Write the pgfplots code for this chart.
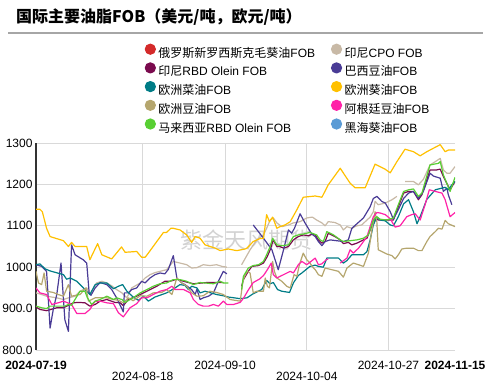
\documentclass[border=0pt]{standalone}
\usepackage{fontspec}
\setmainfont{Liberation Sans}
\newfontfamily\cjk{Noto Sans CJK SC}
\usepackage{pgfplots}
\pgfplotsset{compat=1.18}
\definecolor{cRed}{HTML}{D42A2A}
\definecolor{cBeige}{HTML}{C8B9A6}
\definecolor{cMaroon}{HTML}{7A0A4E}
\definecolor{cPurple}{HTML}{4A3C96}
\definecolor{cTeal}{HTML}{007C86}
\definecolor{cYellow}{HTML}{FFC000}
\definecolor{cKhaki}{HTML}{B5A66E}
\definecolor{cPink}{HTML}{FF22A8}
\definecolor{cGreen}{HTML}{58CF33}
\definecolor{cBlue}{HTML}{5B9BD5}
\definecolor{cGrid}{HTML}{D9D9D9}
\definecolor{cRule}{HTML}{A6A6A6}
\definecolor{cWater}{HTML}{D2D2D2}
\newcommand\zh[1]{{\cjk #1}}
\begin{document}
\begin{tikzpicture}[x=1bp,y=1bp]
\useasboundingbox (0,0) rectangle (489,385);
\node[anchor=west, inner sep=0] at (16,367.5) {\fontsize{16bp}{18bp}\selectfont\cjk\bfseries 国际主要油脂FOB（美元/吨，欧元/吨）};
\draw[cRule, line width=1.5bp] (8,352) -- (483,352);
\node[inner sep=0, text=cWater] at (246,145) {\fontsize{22bp}{24bp}\selectfont\cjk 紫金天风期货};
\begin{axis}[
  at={(36bp,35bp)}, anchor=south west,
  width=419bp, height=207bp, scale only axis,
  xmin=0, xmax=119, ymin=800, ymax=1300,
  axis lines=left, axis line style={-},
  x axis line style={draw=none},
  y axis line style={draw={rgb,255:red,51;green,51;blue,51}, line width=1.3bp},
  xmajorgrids, ymajorgrids, grid style={cGrid, line width=1bp},
  major tick length=0pt,
  xtick={30.3,53.7,76.9,100.1},
  xticklabels={\raisebox{-11bp}{2024-08-18},2024-09-10,\raisebox{-11bp}{2024-10-04},2024-10-27},
  extra x ticks={0,119},
  extra x tick labels={\textbf{2024-07-19},\textbf{2024-11-15}},
  extra x tick style={grid=none},
  xticklabel style={anchor=base, yshift=-19.3bp, font=\fontsize{12bp}{14bp}\selectfont},
  ytick={800,900,1000,1100,1200,1300},
  yticklabels={800.0,900.0,1000,1100,1200,1300},
  yticklabel style={font=\fontsize{12bp}{14bp}\selectfont},
  unbounded coords=jump,
  legend columns=2,
  legend cell align=left,
  legend style={at={(0.2595,1.4802)}, anchor=north west, draw=none, fill=none,
    inner sep=0pt, outer sep=0pt, row sep=2.1bp, column sep=0pt,
    nodes={inner xsep=2.5bp, inner ysep=0pt, text height=10bp, text depth=3bp},
    font=\fontsize{12bp}{14bp}\selectfont},
  legend image code/.code={\fill[#1] (5bp,4.5bp) circle (5bp);},
  every axis plot/.append style={line width=1.2bp, line join=round, mark=none},
]
\addlegendimage{color=cRed}
\addlegendentry{\makebox[170bp][l]{\zh{俄罗斯新罗西斯克毛葵油}FOB}}

\addplot[color=cBeige] coordinates {(0,938) (1.6,934) (3.0,930) (5.9,926) (7.8,922) (9.2,926) (11.1,930) (12.5,942) (14.4,950) (15.3,934) (17.2,962) (18.7,966) (20.1,962) (21.5,955) (22.9,946) (24.4,938) (25.8,926) (27.2,950) (29.6,962) (31.0,974) (32.4,982) (33.8,987) (35.2,990) (37.1,994) (39.0,1014) (40.9,1010) (42.8,1006) (44.2,998) (45.7,999) (47.5,1006) (49.4,1004) (51.3,1006) (52.8,1002) (54.2,1000) (56,nan) (58.4,1006) (60.8,1042) (62.7,1066) (64.6,1078) (65.5,1094) (66.5,1114) (67.4,1119) (68.4,1107) (69.8,1098) (71.7,1102) (73.1,1107) (75.0,1110) (76.9,1119) (78.5,1121) (79.7,1114) (81.2,1107) (82.1,1100) (83.0,1110) (84.9,1108) (86.4,1102) (87.3,1090) (88.3,1098) (89.7,1094) (91.1,1100) (92.5,1102) (94.0,1114) (94.9,1121) (95.8,1134) (96.3,1159) (97.2,1151) (99.2,1155) (101.1,1163) (102.5,1171) (103.6,nan) (104.8,1207) (107.2,1207) (108.6,1199) (110.0,1212) (111.9,1247) (113.4,1255) (114.8,1263) (115.7,1235) (116.7,1227) (117.6,1227) (119,1243)};
\addlegendentry{\zh{印尼}CPO FOB}

\addplot[color=cMaroon] coordinates {(0,904) (1.1,898) (3.0,895) (5.9,902) (7.8,902) (9.2,908) (10.6,914) (12.0,915) (13.9,914) (15.3,906) (16.8,910) (18.2,918) (20.1,922) (22.4,915) (23.9,914) (24.8,907) (26.2,922) (28.6,930) (31.5,942) (34.3,954) (36.6,966) (38.1,966) (40.0,971) (41.9,966) (44.7,960) (48.5,963) (51.3,963) (53.2,963) (55.5,nan) (58.4,954) (58.9,970) (60.3,990) (61.3,1002) (63.2,1004) (64.6,1010) (65.7,1026) (66.5,1042) (67.4,1066) (68.4,1050) (69.3,1050) (70.3,1046) (71.7,1050) (73.1,1066) (74.5,1074) (75.9,1078) (77.4,1076) (78.5,1080) (79.3,1078) (80.2,1066) (81.2,1058) (82.1,1062) (83.0,1082) (84.9,1074) (86.4,1066) (87.3,1057) (88.7,1060) (89.7,1054) (91.1,1058) (93.0,1066) (94.0,1070) (94.9,1090) (96.3,1119) (97.2,1114) (99.2,1114) (101.5,1114) (102.9,1146) (104.4,1179) (105.8,1183) (107.2,1183) (108.6,1163) (109.6,1175) (111.9,1235) (113.8,1235) (114.8,1237) (115.7,1219) (117.6,1187) (119,1207)};
\addlegendentry{\makebox[170bp][l]{\zh{印尼}RBD Olein FOB}}

\addplot[color=cPurple] coordinates {(0,1006) (1.6,1002) (3.0,990) (4.0,853) (4.9,898) (5.9,934) (7.1,1010) (8.2,873) (9.2,845) (10.1,1054) (11.1,1030) (13.4,1018) (14.4,1010) (15.1,938) (15.6,932) (16.8,950) (18.2,963) (20.1,958) (21.5,946) (22.9,926) (24.8,892) (25.1,938) (26.2,938) (27.2,946) (28.6,950) (30.0,966) (31.0,962) (32.4,974) (33.8,982) (35.2,986) (36.6,984) (37.6,995) (39.0,1028) (40.0,974) (41.4,962) (42.3,958) (44.2,946) (45.2,934) (45.7,947) (46.6,922) (47.5,926) (49.0,930) (50.4,938) (51.8,966) (53.2,990) (54.2,984) (57,nan) (61.7,1102) (64.6,1070) (67.0,1042) (68.8,994) (70.3,1042) (71.7,1090) (72.6,1082) (73.4,1094) (75.0,1129) (76.4,1107) (78.3,1080) (79.3,1074) (80.2,1062) (81.2,1052) (82.1,1062) (83.5,1066) (87.3,1062) (88.7,1066) (89.7,1094) (93.0,1119) (94.9,1146) (95.8,1166) (96.8,1171) (98.2,1159) (99.2,1155) (100.6,1134) (101.5,1116) (102.9,1139) (104.4,1166) (105.8,1179) (107.2,1183) (108.6,1166) (110.0,1183) (111.9,1227) (112.9,1220) (114.8,1215) (115.7,1183) (116.7,1191) (117.1,1175) (118.1,1151)};
\addlegendentry{\zh{巴西豆油}FOB}

\addplot[color=cTeal] coordinates {(0,1006) (1.1,1008) (2.6,996) (4.0,991) (7.8,982) (8.7,971) (9.7,974) (11.6,966) (13.9,946) (15.3,934) (16.8,958) (18.2,962) (20.1,962) (22.0,948) (23.4,954) (24.6,958) (25.8,942) (27.6,928) (29.1,920) (30.5,930) (31.9,918) (33.8,928) (37.1,938) (39.5,950) (40.9,958) (42.3,956) (43.3,946) (44.2,954) (45.7,950) (46.6,938) (48.0,942) (51.3,934) (53.2,931) (54.6,928) (58.0,924) (59.9,926) (61.7,936) (64.1,946) (65.5,968) (66.5,960) (67.4,963) (68.6,946) (69.8,942) (72.0,939) (73.1,962) (74.5,980) (75.5,986) (77.8,1002) (79.3,1005) (80.2,1002) (81.6,1000) (82.6,1022) (85.9,1022) (87.3,1010) (88.3,1016) (89.7,1030) (93.0,1030) (94.0,1038) (94.9,1066) (95.8,1102) (96.8,1121) (97.7,1114) (99.2,1112) (100.6,1102) (101.5,1100) (102.9,1122) (104.4,1153) (105.8,1163) (107.2,1134) (108.2,1105) (109.1,1122) (111.0,1164) (113.4,1187) (116.2,1193) (117.1,1187) (118.1,1199) (119,1207)};
\addlegendentry{\makebox[170bp][l]{\zh{欧洲菜油}FOB}}

\addplot[color=cYellow] coordinates {(0,1140) (1.1,1140) (1.8,1134) (3.0,1094) (4.0,1074) (7.8,1064) (9.2,1050) (10.1,1060) (11.1,1050) (14.4,1050) (15.3,1018) (17.5,1057) (18.7,1030) (21.5,1020) (24.3,1049) (25.3,1036) (28.6,1038) (30.0,1024) (31.0,1024) (31.9,1034) (34.3,1062) (36.2,1084) (37.1,1084) (38.3,1094) (39.0,1094) (40.9,1090) (42.8,1078) (44.2,1060) (45.2,1074) (46.6,1070) (48.0,1054) (50.9,1046) (52.3,1040) (54.6,1044) (57.0,1040) (59.4,1044) (59.9,1046) (61.7,1062) (63.6,1069) (64.6,1070) (65.5,1127) (66.3,1110) (67.2,1121) (68.4,1094) (69.3,1098) (70.7,1102) (72.2,1110) (74.1,1139) (75.9,1169) (79.3,1172) (81.2,1169) (83.0,1199) (86.4,1239) (89.2,1203) (90.6,1192) (93.5,1192) (96.3,1249) (99.1,1237) (100.6,1228) (102.5,1255) (104.8,1285) (107.2,1279) (109.1,1269) (111.0,1279) (114.8,1296) (116.2,1279) (117.1,1283) (119,1283)};
\addlegendentry{\zh{欧洲葵油}FOB}

\addplot[color=cKhaki] coordinates {(0,990) (0.7,962) (1.6,958) (2.3,986) (3.0,942) (4.9,939) (6.3,934) (7.8,930) (9.2,958) (10.1,930) (12.5,934) (14.2,950) (14.9,918) (16.8,926) (20.1,926) (22.0,922) (23.4,920) (24.8,914) (26.2,926) (27.6,919) (29.6,931) (31.5,930) (33.3,938) (35.7,939) (37.1,946) (38.6,934) (40.0,974) (41.4,962) (42.8,954) (44.2,938) (45.7,930) (47.5,931) (49.4,942) (51.3,939) (53.2,934) (55.1,922) (58.0,918) (58.7,962) (59.1,975) (59.9,990) (60.8,986) (61.7,938) (62.7,942) (64.6,942) (65.1,974) (65.7,954) (66.3,950) (67.2,1014) (67.7,990) (68.4,974) (69.8,966) (71.2,954) (72.2,950) (73.3,982) (74.1,978) (74.8,1006) (75.9,1034) (76.9,1018) (77.8,1010) (78.8,998) (79.3,994) (80.2,982) (81.2,978) (82.1,998) (84.0,994) (85.9,990) (87.3,976) (88.3,998) (90.1,1010) (91.6,1006) (93.0,1002) (94.4,1034) (95.4,1090) (96.3,1134) (96.8,1110) (97.2,1042) (98.2,1038) (99.6,1032) (101.1,1028) (102.0,1020) (102.9,1030) (103.9,1044) (105.3,1046) (107.2,1046) (108.6,1040) (109.6,1040) (111.0,1062) (111.9,1074) (113.4,1086) (114.3,1094) (115.3,1092) (116.2,1113) (117.1,1105) (119,1098)};
\addlegendentry{\makebox[170bp][l]{\zh{欧洲豆油}FOB}}

\addplot[color=cPink] coordinates {(0,950) (1.1,938) (3.0,934) (4.5,910) (6.3,914) (7.8,918) (8.7,915) (10.1,910) (11.6,888) (13.9,888) (15.3,898) (16.8,918) (18.2,918) (20.1,914) (22.0,912) (23.4,890) (24.8,880) (26.7,902) (28.6,912) (30.0,926) (31.5,926) (33.3,934) (35.2,942) (37.1,946) (38.6,954) (39.5,946) (41.9,946) (43.8,938) (44.7,922) (46.1,910) (47.5,906) (49.0,906) (50.4,910) (51.8,906) (53.2,918) (54.2,910) (56.1,910) (58.0,915) (59.0,926) (60.3,945) (61.7,963) (63.6,972) (64.6,980) (65.1,986) (66.0,998) (66.8,1010) (67.4,982) (68.4,974) (70.3,982) (72.2,990) (73.1,986) (74.5,1006) (75.5,1014) (76.9,1006) (77.8,1012) (79.3,1022) (80.2,1006) (81.2,1008) (82.4,1018) (83.0,1020) (84.5,nan) (86.4,1010) (88.3,1022) (89.2,1042) (90.1,1034) (91.6,1046) (93.0,1062) (94.0,1074) (94.9,1098) (95.8,1122) (96.8,1132) (97.7,1131) (99.2,1127) (100.6,1117) (102.0,1097) (103.4,1100) (105.3,1122) (106.7,1127) (107.7,1129) (109.1,1114) (110.5,1151) (111.7,1187) (113.4,1183) (115.3,1179) (116.2,1163) (117.6,1122) (119,1132)};
\addlegendentry{\zh{阿根廷豆油}FOB}

\addplot[color=cGreen] coordinates {(0,906) (1.6,902) (3.0,900) (4.0,906) (8.2,906) (9.2,910) (10.1,908) (12.5,942) (13.9,942) (14.6,926) (15.8,910) (16.8,918) (18.2,922) (20.1,930) (22.0,922) (22.9,926) (24.4,922) (25.3,915) (27.6,926) (29.6,938) (31.5,946) (33.3,954) (35.2,960) (37.1,962) (39.0,970) (40.9,970) (42.8,966) (44.7,958) (46.6,963) (50.4,960) (52.3,966) (53.2,962) (54.6,962) (56.5,nan) (58.4,946) (58.9,978) (60.3,998) (61.7,1004) (63.2,1006) (64.6,1014) (65.5,1030) (66.5,1050) (67.2,1070) (68.4,1054) (69.8,1052) (71.7,1054) (73.1,1074) (74.5,1078) (76.4,1081) (77.8,1084) (79.7,1078) (80.7,1066) (81.6,1062) (82.6,1086) (84.5,1078) (86.4,1066) (87.3,1062) (89.2,1064) (91.1,1066) (93.0,1070) (94.4,1078) (95.8,1114) (96.8,1122) (97.7,1116) (99.6,1114) (101.5,1119) (102.9,1151) (104.4,1183) (105.8,1187) (107.2,1189) (108.6,1171) (109.6,1179) (111.9,1247) (114.3,1251) (114.8,1255) (115.7,1223) (117.6,1183) (119,1217)};
\addlegendentry{\makebox[170bp][l]{\zh{马来西亚}RBD Olein FOB}}

\addlegendimage{color=cBlue}
\addlegendentry{\zh{黑海葵油}FOB}
\end{axis}
\end{tikzpicture}
\end{document}
